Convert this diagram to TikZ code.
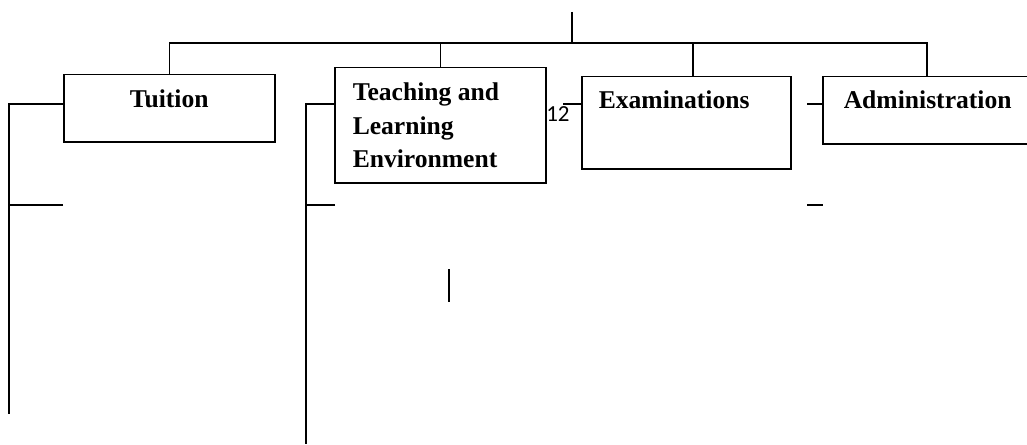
\documentclass[tikz,border=0pt]{standalone}
\usepackage{fontspec}
\setmainfont{Liberation Serif}
\newfontfamily\numfont{Carlito}
\usetikzlibrary{positioning,calc}

\begin{document}
\begin{tikzpicture}[
    x=0.5pt, y=-0.5pt,
    box/.style={rectangle, draw, line width=0.75pt, inner ysep=0pt, anchor=north west, font=\bfseries\fontsize{12.8}{16.75}\selectfont},
    line/.style={line width=0.75pt}
]
\useasboundingbox (0,0) rectangle (1027,444);

% Units
\node[box, inner xsep=0pt, text height=16.5pt, text depth=17pt] (tuition) at (63,74) {\parbox[t]{105.5pt}{\centering Tuition}};
\node[box, inner xsep=9pt, text height=16.5pt, text depth=41pt] (teaching) at (334,67) {\parbox[t]{87.5pt}{Teaching and\\Learning\\Environment}};
\node[box, inner xsep=8.5pt, text height=16pt, text depth=30pt] (exams) at (581,76) {\parbox[t]{87.5pt}{Examinations}};
\node[box, inner xsep=10.5pt, text height=16pt, text depth=17.5pt] (admin) at (822,76) {\parbox[t]{83pt}{Administration}};

% Page number
\node[font=\numfont\fontsize{11.5}{13}\selectfont, inner sep=0pt, anchor=north east] (pagenum) at (570,106) {12};

% Top of the tree
\coordinate (root) at (572,12);
\coordinate (bar) at (572,43);
\draw[line] (root) -- (bar);
\draw[line] (tuition.north) |- (bar) -| (admin.north);
\draw[line] (teaching.north) -- (teaching.north |- bar);
\draw[line] ([xshift=3.25pt]exams.north) -- ([xshift=3.25pt]exams.north |- bar);

% Tuition bracket
\coordinate (tuitionend) at (9,414);
\coordinate (tuitionsub) at (63,205);
\draw[line] ([yshift=-15pt]tuition.north west) -| (tuitionend);
\draw[line] (tuitionsub) -- (tuitionsub -| tuitionend);

% Teaching bracket
\coordinate (teachingend) at (306,444);
\coordinate (teachingsub) at (335,205);
\draw[line] ([yshift=-18.5pt]teaching.north west) -| (teachingend);
\draw[line] (teachingsub) -- (teachingsub -| teachingend);

% Stubs
\draw[line] ([yshift=-14pt]exams.north west) -- ++(-18,0);
\draw[line] ([yshift=-14pt]admin.north west) -- ++(-15,0);
\coordinate (dash) at (807,205);
\draw[line width=1pt] (dash) -- ++(16,0);
\coordinate (tick) at (449,269);
\draw[line] (tick) -- ++(0,33);

\end{tikzpicture}
\end{document}
